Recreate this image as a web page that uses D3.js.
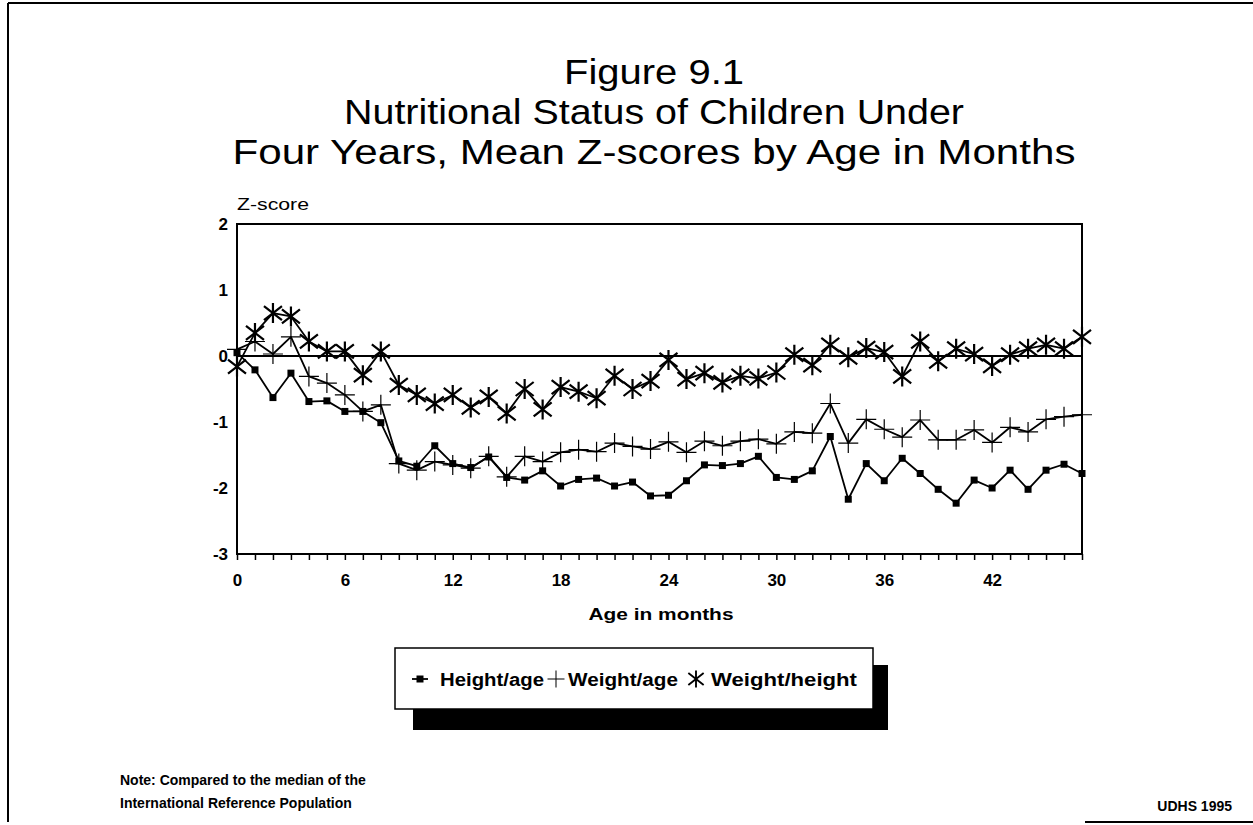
<!DOCTYPE html>
<html>
<head>
<meta charset="utf-8">
<script src="https://cdn.jsdelivr.net/npm/d3@7"></script>
<style>
    body { margin: 0; background: #fff; }
    svg { display: block; font-family: "Liberation Sans", Arial, Helvetica, sans-serif; }
</style>
</head>
<body>
<svg id="chart" width="1253" height="825"></svg>
<script>
// months 0..47
const months = d3.range(0, 48);
const heightAge = [0.05, -0.21, -0.63, -0.26, -0.69, -0.68, -0.84, -0.84, -1.01, -1.59, -1.67, -1.36,
    -1.63, -1.69, -1.53, -1.84, -1.88, -1.74, -1.97, -1.87, -1.85, -1.97, -1.91, -2.12,
    -2.11, -1.89, -1.65, -1.66, -1.63, -1.52, -1.84, -1.87, -1.74, -1.22, -2.17, -1.63,
    -1.89, -1.55, -1.78, -2.02, -2.23, -1.88, -2.0, -1.73, -2.02, -1.73, -1.64, -1.78];
const weightAge = [0.1, 0.22, 0.03, 0.29, -0.31, -0.41, -0.59, -0.84, -0.74, -1.63, -1.73, -1.6,
    -1.65, -1.7, -1.52, -1.83, -1.52, -1.6, -1.46, -1.42, -1.45, -1.32, -1.37, -1.41,
    -1.3, -1.46, -1.29, -1.36, -1.29, -1.26, -1.33, -1.15, -1.17, -0.72, -1.32, -0.96,
    -1.11, -1.23, -0.97, -1.27, -1.27, -1.12, -1.31, -1.08, -1.15, -0.96, -0.92, -0.89];
const weightHeight = [-0.16, 0.35, 0.65, 0.6, 0.22, 0.07, 0.07, -0.29, 0.07, -0.44, -0.59, -0.72,
    -0.59, -0.78, -0.62, -0.87, -0.5, -0.81, -0.47, -0.54, -0.64, -0.3, -0.5, -0.38,
    -0.06, -0.35, -0.26, -0.4, -0.3, -0.34, -0.25, 0.02, -0.14, 0.17, -0.02, 0.12,
    0.06, -0.31, 0.22, -0.08, 0.11, 0.03, -0.15, 0.02, 0.11, 0.17, 0.11, 0.29];
const xTickLabels = [0, 6, 12, 18, 24, 30, 36, 42];
const yTickLabels = [2, 1, 0, -1, -2, -3];
const seriesNames = ["Height/age", "Weight/age", "Weight/height"];
const seriesMarks = ["square", "plus", "star"];

const titleLines = ["Figure 9.1", "Nutritional Status of Children Under",
    "Four Years, Mean Z-scores by Age in Months"];
const titleWidths = [180, 620, 843];

const svg = d3.select("#chart");
const plotLeft = 237, plotRight = 1082, plotTop = 224, plotBottom = 554;

const x = d3.scaleLinear().domain([0, 47]).range([plotLeft, plotRight]);
const y = d3.scaleLinear().domain([-3, 2]).range([plotBottom, plotTop]);

// page frame (scanned border)
svg.append("line").attr("x1", 8).attr("x2", 1253).attr("y1", 3).attr("y2", 3)
    .attr("stroke", "#000").attr("stroke-width", 2);
svg.append("line").attr("x1", 8).attr("x2", 8).attr("y1", 3).attr("y2", 822)
    .attr("stroke", "#000").attr("stroke-width", 2);
svg.append("line").attr("x1", 1085).attr("x2", 1253).attr("y1", 822).attr("y2", 822)
    .attr("stroke", "#000").attr("stroke-width", 2);

// title
svg.append("g").selectAll("text").data(titleLines).join("text")
    .attr("x", 654).attr("y", (d, i) => 84 + i * 40)
    .attr("text-anchor", "middle").attr("font-size", 35)
    .attr("textLength", (d, i) => titleWidths[i]).attr("lengthAdjust", "spacingAndGlyphs")
    .text(d => d);

// plot box
svg.append("rect").attr("x", plotLeft).attr("y", plotTop)
    .attr("width", plotRight - plotLeft).attr("height", plotBottom - plotTop)
    .attr("fill", "none").attr("stroke", "#000").attr("stroke-width", 2);

// x axis with a tick per month
const xAxis = d3.axisBottom(x).tickValues(months).tickSize(6)
    .tickFormat(d => xTickLabels.includes(d) ? d : "");
const gx = svg.append("g").attr("transform", `translate(0,${plotBottom})`).call(xAxis);
gx.select(".domain").remove();
gx.selectAll("line").attr("stroke", "#000").attr("stroke-width", 1.5);
gx.selectAll("text").attr("font-size", 17).attr("font-family", "inherit")
    .attr("font-weight", "bold").attr("dy", "1.35em").attr("fill", "#000");

// y axis labels, no ticks
const yAxis = d3.axisLeft(y).tickValues(yTickLabels).tickSize(0).tickPadding(9)
    .tickFormat(d => String(d));
const gy = svg.append("g").attr("transform", `translate(${plotLeft},0)`).call(yAxis);
gy.select(".domain").remove();
gy.selectAll("text").attr("font-size", 17).attr("font-family", "inherit")
    .attr("font-weight", "bold").attr("fill", "#000");

svg.append("text").attr("x", plotLeft).attr("y", 210).attr("font-size", 16)
    .attr("textLength", 72).attr("lengthAdjust", "spacingAndGlyphs").text("Z-score");
svg.append("text").attr("x", 661).attr("y", 620).attr("text-anchor", "middle")
    .attr("font-size", 17).attr("font-weight", "bold")
    .attr("textLength", 145).attr("lengthAdjust", "spacingAndGlyphs").text("Age in months");

// zero line
svg.append("line").attr("x1", plotLeft).attr("x2", plotRight).attr("y1", y(0)).attr("y2", y(0))
    .attr("stroke", "#000").attr("stroke-width", 2);

// markers
function markerPath(kind) {
    if (kind === "square") return "M-3.5,-3.5h7v7h-7z";
    if (kind === "plus") return "M-10,0H10M0,-10V10";
    return "M0,-10V10M-9,-7L9,7M-9,7L9,-7";
}
function drawMarks(g, kind) {
    if (kind === "square") {
        g.attr("fill", "#000").attr("stroke", "none");
    } else if (kind === "plus") {
        g.attr("fill", "none").attr("stroke", "#000").attr("stroke-width", 1.2);
    } else {
        g.attr("fill", "none").attr("stroke", "#000").attr("stroke-width", 2.2);
    }
}

const allSeries = [heightAge, weightAge, weightHeight];
const line = d3.line().x((d, i) => x(i)).y(d => y(d));

allSeries.forEach((vals, k) => {
    svg.append("path").datum(vals).attr("d", line)
        .attr("fill", "none").attr("stroke", "#000").attr("stroke-width", 1.8)
        .attr("stroke-linejoin", "round");
    svg.append("g").selectAll("path").data(vals).join("path")
        .attr("transform", (d, i) => `translate(${x(i)},${y(d)})`)
        .attr("d", markerPath(seriesMarks[k]))
        .call(drawMarks, seriesMarks[k]);
});

// legend with drop shadow
const legend = svg.append("g");
legend.append("rect").attr("x", 413).attr("y", 665).attr("width", 475).attr("height", 65).attr("fill", "#000");
legend.append("rect").attr("x", 395).attr("y", 648).attr("width", 478).attr("height", 61)
    .attr("fill", "#fff").attr("stroke", "#000").attr("stroke-width", 1.5);

// [marker x, text x, text width]
const legendPos = [[420, 440, 104], [556, 568, 110], [696, 711, 146]];
seriesNames.forEach((name, k) => {
    const [mx, tx, tw] = legendPos[k];
    if (k === 0) {
        legend.append("line").attr("x1", mx - 8).attr("x2", mx + 8).attr("y1", 679).attr("y2", 679)
            .attr("stroke", "#000").attr("stroke-width", 1.8);
    }
    const mk = legend.append("path").attr("transform", `translate(${mx},679) scale(${k === 0 ? 1 : 0.85})`)
        .attr("d", markerPath(seriesMarks[k]))
        .call(drawMarks, seriesMarks[k]);
    legend.append("text").attr("x", tx).attr("y", 686).attr("font-size", 18)
        .attr("font-weight", "bold")
        .attr("textLength", tw).attr("lengthAdjust", "spacingAndGlyphs").text(name);
});

// notes
svg.append("text").attr("x", 120).attr("y", 785).attr("font-size", 14).attr("font-weight", "bold")
    .text("Note: Compared to the median of the");
svg.append("text").attr("x", 120).attr("y", 808).attr("font-size", 14).attr("font-weight", "bold")
    .text("International Reference Population");
svg.append("text").attr("x", 1232).attr("y", 811).attr("text-anchor", "end").attr("font-size", 14)
    .attr("font-weight", "bold").text("UDHS 1995");
</script>
</body>
</html>
